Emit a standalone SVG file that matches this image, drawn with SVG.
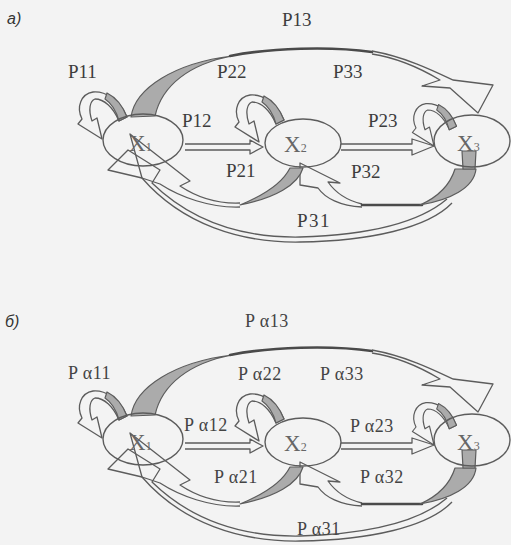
<svg xmlns="http://www.w3.org/2000/svg" xmlns:xlink="http://www.w3.org/1999/xlink" width="511" height="545" viewBox="0 0 511 545">
  <style>
    .edge { fill: none; stroke: #5c5c5c; stroke-width: 1.3; stroke-linejoin: round; }
    .band { fill: #ababab; stroke: #5c5c5c; stroke-width: 1.2; stroke-linejoin: round; }
    .rim  { fill: none; stroke: #4a4a4a; stroke-width: 2.6; stroke-linecap: round; }
    .node { fill: none; stroke: #5c5c5c; stroke-width: 1.4; }
    .lbl  { font-size: 19px; fill: #3c3c3c; }
    .lblb { font-size: 18px; fill: #444; letter-spacing: 0.5px; }
    .xl   { font-size: 23px; fill: #666; }
    .sub  { font-size: 12px; }
    .tag  { font-size: 16px; font-style: italic; fill: #333; }
  </style>
  <defs>
    <!-- self-loop ribbon, drawn around the X2 position -->
    <g id="loop">
      <path class="edge" d="M284,120 C276,102 262,94 250,95 C238,97 233,110 239,122 L235,127 L259,142 L254,121 L249,124 C245,112 247,104 252,102 C261,102 270,110 276,124 Z"/>
      <path class="band" d="M284,120 C279,107 272,100 264,96 L262,102 C268,106 273,113 276,124 Z"/>
    </g>
    <!-- all transition ribbons of one chain -->
    <g id="links">
      <!-- X1 -> X2 -->
      <path class="edge" d="M185,144 L250,144 L250,140 L263,147 L250,154 L250,150 L185,150"/>
      <!-- X2 -> X3 -->
      <path class="edge" d="M341,144 L412,144 L412,139 L434,146 L412,155 L412,150 L341,150"/>
      <!-- self loops -->
      <use xlink:href="#loop" transform="translate(-157,-3)"/>
      <use xlink:href="#loop"/>
      <use xlink:href="#loop" transform="translate(434,146) scale(0.9) translate(-259,-142)"/>
      <!-- X1 -> X3 over the top -->
      <path class="band" d="M131,117 C135,88 175,63 232,56 C190,64 162,85 155,116 Z"/>
      <path class="rim" d="M230,56 C270,48 330,46 372,52"/>
      <path class="edge" d="M372,51 C405,57 432,70 453,80 L493,85 L478,113 L450,88 L422,86 L440,80 C420,68 398,58 372,54"/>
      <!-- X3 -> X1 along the bottom -->
      <path class="edge" d="M447,199 C420,222 370,235 300,237 C240,238 190,220 152,183 L160,170 L128,150 L108,170 L142,178 C182,224 240,243 300,242 C370,241 428,228 452,203"/>
      <!-- X3 -> X2 -->
      <path class="edge" d="M362,204 C345,200 335,192 328,182 L340,183 L300,163 L300,185 L318,188 C325,198 340,206 362,207"/>
      <path class="rim" d="M422,205 L362,205"/>
      <path class="band" d="M455,169 L476,169 C474,188 450,200 420,205 C438,197 450,185 455,169 Z"/>
      <path class="band" d="M462,151 L476,151 L475,169 L463,169 Z"/>
      <!-- X2 -> X1 -->
      <path class="edge" d="M240,203 C215,204 195,196 180,186 L190,181 L130,134 L142,178 L160,184 C180,197 210,208 240,207"/>
      <path class="band" d="M290,168 L303,168 C298,185 275,198 240,205 C262,196 282,184 290,168 Z"/>
    </g>
  </defs>

  <rect width="511" height="545" fill="#f3f3f3"/>

  <g font-family="'Liberation Serif', 'Times New Roman', serif">
    <!-- chain (a) -->
    <text class="tag" font-family="'Liberation Sans', Arial, sans-serif" x="7" y="24">a)</text>
    <g id="connectors-a">
      <use xlink:href="#links"/>
    </g>
    <g id="a-x1"><ellipse class="node" cx="143" cy="140" rx="40" ry="26"/><text class="xl" x="129" y="151">X<tspan class="sub">1</tspan></text></g>
    <g id="a-x2"><ellipse class="node" cx="303" cy="143" rx="38" ry="24"/><text class="xl" x="284" y="152">X<tspan class="sub">2</tspan></text></g>
    <g id="a-x3"><ellipse class="node" cx="472" cy="141" rx="38" ry="26"/><text class="xl" x="457" y="151">X<tspan class="sub">3</tspan></text></g>
    <g id="labels-a">
      <text class="lbl" x="282" y="26">P13</text>
      <text class="lbl" x="68" y="78">P11</text>
      <text class="lbl" x="217" y="78">P22</text>
      <text class="lbl" x="333" y="78">P33</text>
      <text class="lbl" x="182" y="127">P12</text>
      <text class="lbl" x="368" y="127">P23</text>
      <text class="lbl" x="226" y="177">P21</text>
      <text class="lbl" x="351" y="178">P32</text>
      <text class="lbl" x="297" y="227" letter-spacing="1.5">P31</text>
    </g>

    <!-- chain (b) -->
    <text class="tag" font-family="'Liberation Sans', Arial, sans-serif" x="5" y="327">б)</text>
    <g id="connectors-b" transform="translate(0,299)">
      <use xlink:href="#links"/>
    </g>
    <g id="b-x1"><ellipse class="node" cx="143" cy="439" rx="40" ry="26"/><text class="xl" x="129" y="450">X<tspan class="sub">1</tspan></text></g>
    <g id="b-x2"><ellipse class="node" cx="303" cy="442" rx="38" ry="24"/><text class="xl" x="284" y="451">X<tspan class="sub">2</tspan></text></g>
    <g id="b-x3"><ellipse class="node" cx="472" cy="440" rx="38" ry="26"/><text class="xl" x="457" y="450">X<tspan class="sub">3</tspan></text></g>
    <g id="labels-b">
      <text class="lblb" x="245" y="327">P α13</text>
      <text class="lblb" x="68" y="379">P α11</text>
      <text class="lblb" x="238" y="380">P α22</text>
      <text class="lblb" x="320" y="380">P α33</text>
      <text class="lblb" x="184" y="431">P α12</text>
      <text class="lblb" x="350" y="432">P α23</text>
      <text class="lblb" x="214" y="483">P α21</text>
      <text class="lblb" x="360" y="483">P α32</text>
      <text class="lblb" x="297" y="535">P α31</text>
    </g>
  </g>
</svg>
